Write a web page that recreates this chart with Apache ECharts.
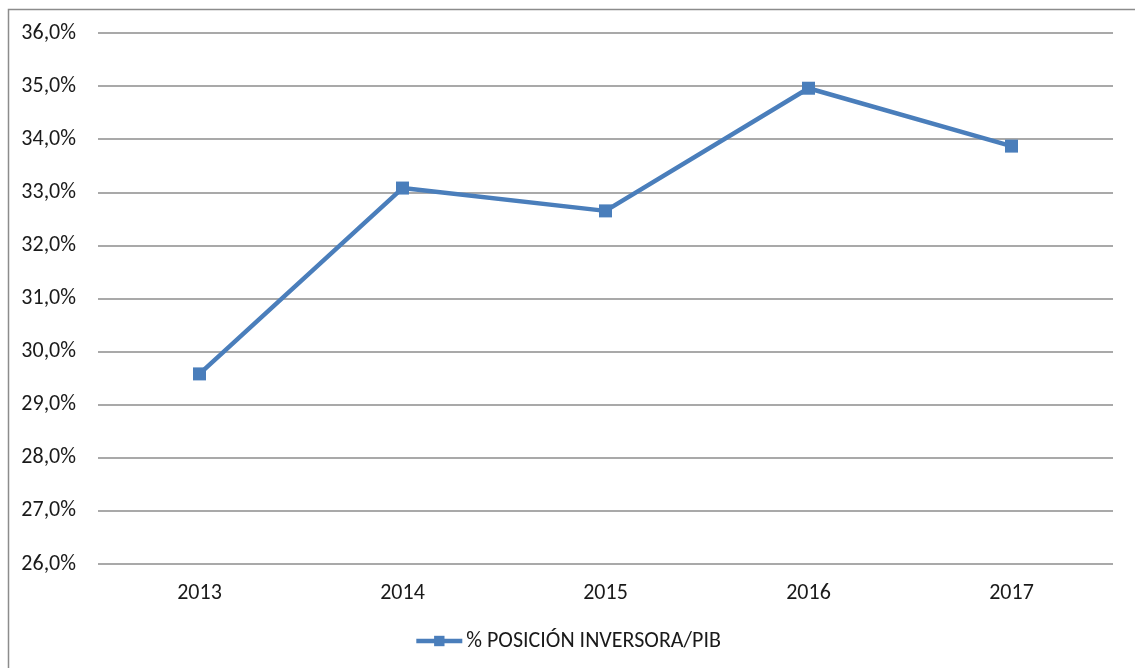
<!DOCTYPE html>
<html>
<head>
<meta charset="utf-8">
<script src="https://cdn.jsdelivr.net/npm/echarts@6/dist/echarts.min.js"></script>
<style>
  html, body { margin: 0; padding: 0; background: #fff; }
  #chart { width: 1135px; height: 668px; }
</style>
</head>
<body>
<div id="chart"></div>
<script>
const years = ['2013', '2014', '2015', '2016', '2017']
const posicionPib = [29.58, 33.08, 32.65, 34.96, 33.87]
const seriesName = '% POSICIÓN INVERSORA/PIB'

const fontFamily = 'Carlito, "Liberation Sans", sans-serif'
const ink = '#1a1a1a'
const grid = '#8c8c8c'
const blue = '#4a7ebb'

const chart = echarts.init(document.getElementById('chart'))

chart.setOption({
  animation: false,
  textStyle: { fontFamily, color: ink },
  graphic: [{
    type: 'rect',
    shape: { x: 8.5, y: 9.5, width: 1200, height: 700 },
    style: { fill: 'none', stroke: '#8c8c8c', lineWidth: 1.5 },
    silent: true
  }],
  legend: {
    data: [seriesName],
    top: 625,
    left: 'center',
    itemWidth: 46,
    itemHeight: 13,
    itemGap: 4,
    lineStyle: { width: 4.5 },
    textStyle: { color: ink, fontSize: 22, fontFamily, padding: [0, 0, 0, -1] }
  },
  grid: { left: 98, right: 22, top: 33, bottom: 104 },
  xAxis: {
    type: 'category',
    data: years,
    boundaryGap: true,
    axisLine: { show: false },
    axisTick: { show: false },
    axisLabel: { color: ink, fontSize: 22, margin: 18, fontFamily }
  },
  yAxis: {
    type: 'value',
    min: 26,
    max: 36,
    interval: 1,
    axisLine: { show: false },
    axisTick: { show: false },
    splitLine: { lineStyle: { color: grid, width: 1.5 } },
    axisLabel: {
      color: ink,
      fontSize: 22,
      margin: 22,
      fontFamily,
      formatter: (v) => v.toFixed(1).replace('.', ',') + '%'
    }
  },
  series: [{
    name: seriesName,
    type: 'line',
    data: posicionPib,
    symbol: 'rect',
    symbolSize: 13,
    lineStyle: { color: blue, width: 4.5 },
    itemStyle: { color: blue }
  }]
})
</script>
</body>
</html>
